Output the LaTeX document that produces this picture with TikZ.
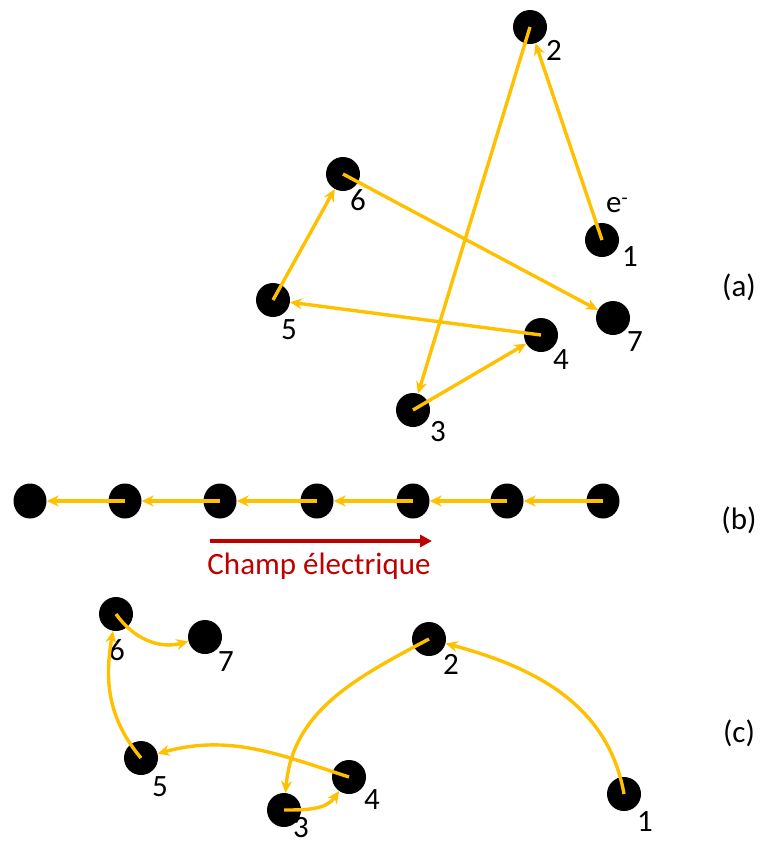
\documentclass[tikz,border=0pt]{standalone}
\usepackage{fontspec}
\setmainfont{Carlito}
\usetikzlibrary{arrows.meta,shapes.geometric}
\definecolor{gold}{HTML}{FFC000}
\definecolor{fieldred}{HTML}{C00000}
\begin{document}
\begin{tikzpicture}[x=1pt,y=-1pt,
  dot/.style={circle,fill=black,minimum size=34pt,inner sep=0pt},
  odot/.style={ellipse,fill=black,minimum width=33pt,minimum height=35pt,inner sep=0pt},
  lbl/.style={font=\fontsize{31}{31}\selectfont,inner sep=0pt},
  hop/.style={draw=gold,line width=3.4pt,-{Stealth[length=12pt,width=11pt]}},
  field/.style={draw=fieldred,line width=3.6pt,-{Triangle[length=12pt,width=12pt]}}]
\useasboundingbox (0,0) rectangle (761,846);
% (a)
\node[dot] (a1) at (602,240) {};
\node[dot] (a2) at (530,27) {};
\node[dot] (a3) at (413,410) {};
\node[dot] (a4) at (541,335) {};
\node[dot] (a5) at (273,300) {};
\node[dot] (a6) at (343,174) {};
\node[dot] (a7) at (613,318) {};
\node[lbl] (la1) at (630,257) {1};
\node[lbl] (la2) at (554,50) {2};
\node[lbl] (la3) at (438,432) {3};
\node[lbl] (la4) at (561,360) {4};
\node[lbl] (la5) at (289,330) {5};
\node[lbl] (la6) at (358,200) {6};
\node[lbl] (la7) at (635,342) {7};
\node[lbl] (le) at (617,205) {e\raisebox{0.55ex}{\fontsize{20}{20}\selectfont -}};
\draw[hop] (a1.center) -- (a2);
\draw[hop] (a2.center) -- (a3);
\draw[hop] (a3.center) -- (a4);
\draw[hop] (a4.center) -- (a5);
\draw[hop] (a5.center) -- (a6);
\draw[hop] (a6.center) -- (a7);
\node[lbl] (ta) at (739,287) {(a)};
% (b)
\foreach \i/\x in {1/30,2/125,3/220,4/317,5/413,6/507,7/603}{
  \node[odot] (b\i) at (\x,501) {};
}
\foreach \i/\j in {2/1,3/2,4/3,5/4,6/5,7/6}{
  \draw[hop] (b\i.center) -- (b\j);
}
\coordinate (fs) at (210,541);
\coordinate (fe) at (432,541);
\draw[field] (fs) -- (fe);
\node[lbl,text=fieldred] (ft) at (319,566) {Champ électrique};
\node[lbl] (tb) at (739,520) {(b)};
% (c)
\node[dot] (c1) at (624,794) {};
\node[dot] (c2) at (429,639) {};
\node[dot] (c3) at (284,810) {};
\node[dot] (c4) at (349,777) {};
\node[dot] (c5) at (141,758) {};
\node[dot] (c6) at (116,614) {};
\node[dot] (c7) at (205,637) {};
\node[lbl] (lc1) at (645,822) {1};
\node[lbl] (lc2) at (451,664) {2};
\node[lbl] (lc3) at (301,828) {3};
\node[lbl] (lc4) at (372,800) {4};
\node[lbl] (lc5) at (160,787) {5};
\node[lbl] (lc6) at (117,650) {6};
\node[lbl] (lc7) at (226,662) {7};
\draw[hop] (c1.center) to[out=100,in=-15] (c2);
\draw[hop] (c2.center) to[out=208,in=85] (c3);
\draw[hop] (c3.center) to[out=0,in=-125] (c4);
\draw[hop] (c4.center) to[out=162,in=15] (c5);
\draw[hop] (c5.center) to[out=130,in=-100] (c6);
\draw[hop] (c6.center) to[out=-55,in=195] (c7);
\node[lbl] (tc) at (739,733) {(c)};
\end{tikzpicture}
\end{document}
